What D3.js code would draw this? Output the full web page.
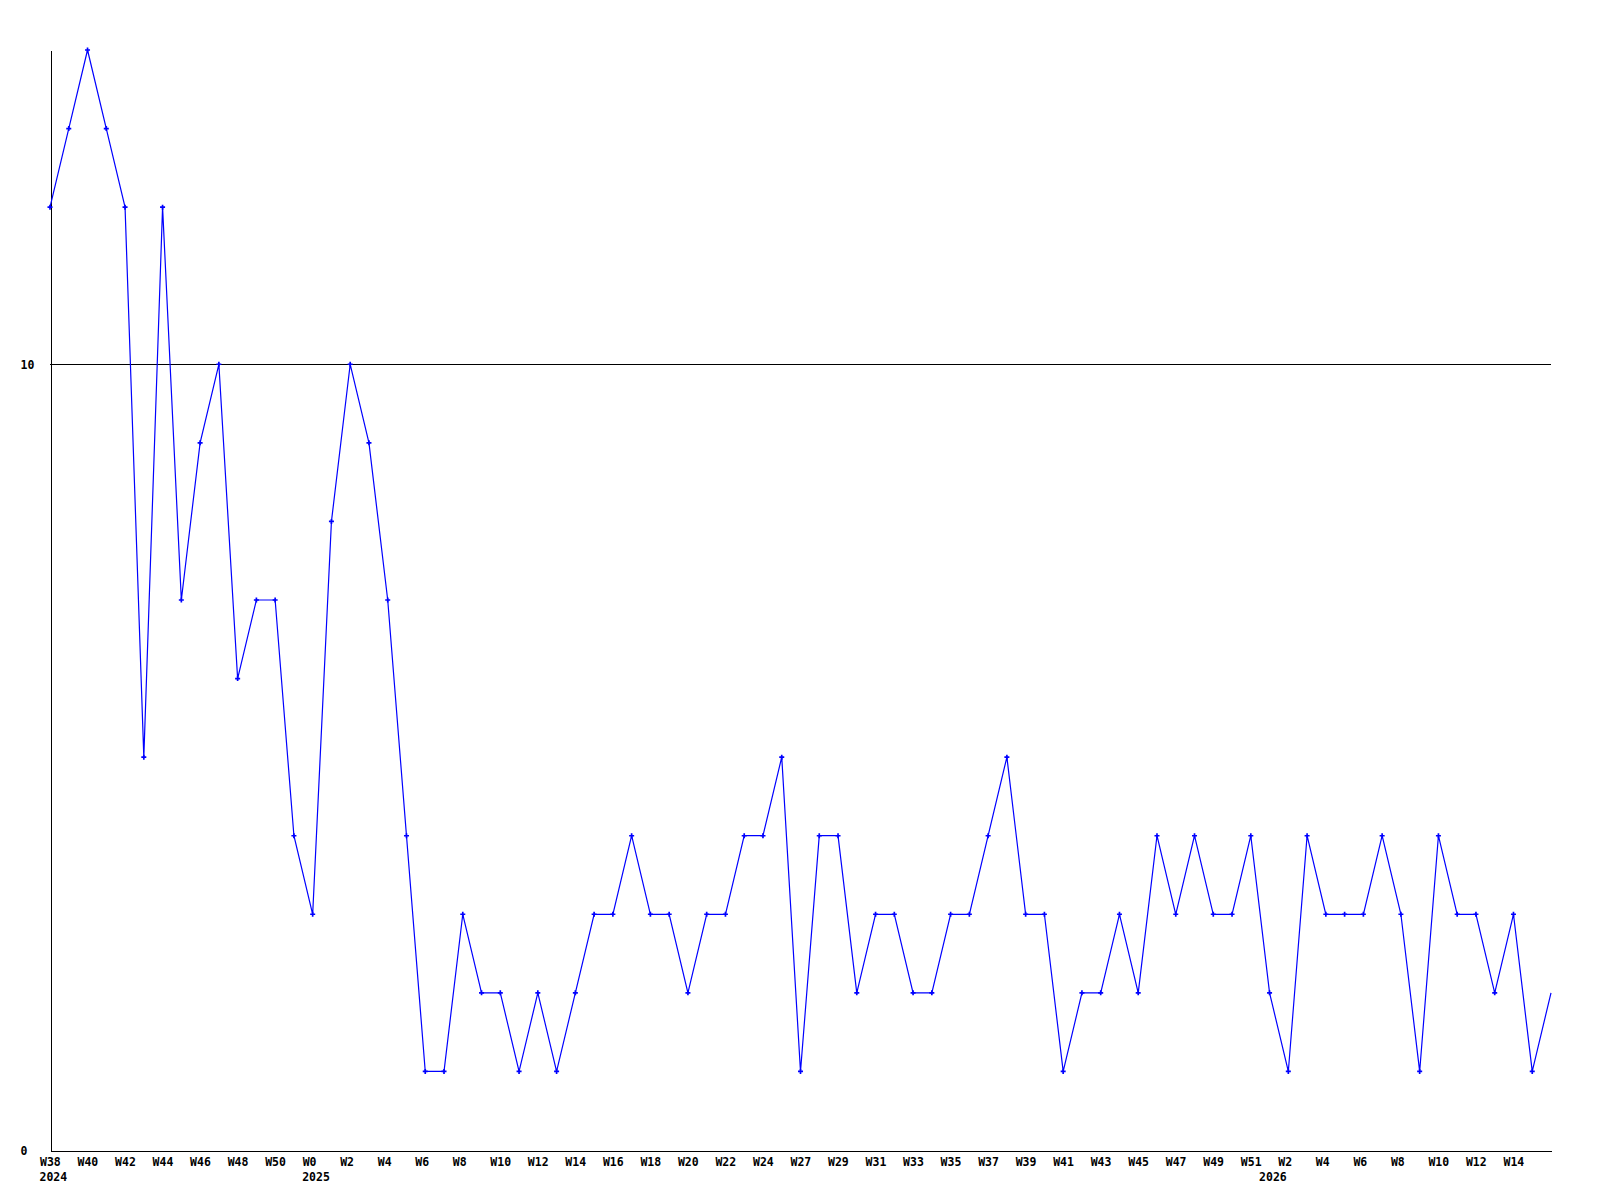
<!DOCTYPE html>
<html>
<head>
<meta charset="utf-8">
<script src="https://cdn.jsdelivr.net/npm/d3@7"></script>
<style>
  body { margin: 0; background: #fff; }
  text { font-family: "DejaVu Sans Mono", "Liberation Mono", monospace; font-weight: bold; font-size: 11.5px; fill: #000; }
</style>
</head>
<body>
<svg id="chart"></svg>
<script>
// weekly counts, one per point
const values = [
  12, 13, 14, 13, 12, 5, 12, 7, 9, 10,
  6, 7, 7, 4, 3, 8, 10, 9, 7, 4,
  1, 1, 3, 2, 2, 1, 2, 1, 2, 3,
  3, 4, 3, 3, 2, 3, 3, 4, 4, 5,
  1, 4, 4, 2, 3, 3, 2, 2, 3, 3,
  4, 5, 3, 3, 1, 2, 2, 3, 2, 4,
  3, 4, 3, 3, 4, 2, 1, 4, 3, 3,
  3, 4, 3, 1, 4, 3, 3, 2, 3, 1,
  2
];

// week labels, every second point
const weekLabels = [
  "W38", "W40", "W42", "W44", "W46", "W48", "W50", "W0", "W2", "W4",
  "W6", "W8", "W10", "W12", "W14", "W16", "W18", "W20", "W22", "W24",
  "W27", "W29", "W31", "W33", "W35", "W37", "W39", "W41", "W43", "W45",
  "W47", "W49", "W51", "W2", "W4", "W6", "W8", "W10", "W12", "W14"
];

const yearLabels = ["2024", "2025", "2026"];
const yearIndex = [0, 14, 65];

const yTicks = [0, 10];

const width = 1600;
const height = 1200;
const mLeft = 50, mRight = 1551, mTop = 50, mBottom = 1150;

const svg = d3.select("#chart").attr("width", width).attr("height", height);

const x = d3.scaleLinear().domain([0, values.length - 1]).range([mLeft, mRight]);
const y = d3.scaleLinear().domain([0, 14]).range([mBottom, mTop]);

// horizontal line at 10
svg.append("line")
    .attr("x1", mLeft).attr("x2", mRight)
    .attr("y1", y(10) + 0.5).attr("y2", y(10) + 0.5)
    .attr("stroke", "#000")
    .attr("shape-rendering", "crispEdges");

// y axis
const gy = svg.append("g")
    .attr("transform", `translate(${mLeft + 0.5},0)`)
    .call(d3.axisLeft(y).tickValues(yTicks).tickSize(0).tickSizeOuter(0));
gy.attr("font-family", null).attr("font-size", null);
gy.select(".domain").attr("stroke", "#000").attr("shape-rendering", "crispEdges");
gy.selectAll("text")
    .attr("x", 20 - mLeft)
    .attr("dy", "0.35em")
    .attr("text-anchor", "start");

// x axis
const gx = svg.append("g")
    .attr("transform", `translate(0,${mBottom + 0.5})`)
    .call(d3.axisBottom(x)
        .tickValues(weekLabels.map((d, i) => i * 2))
        .tickFormat((d, i) => weekLabels[i])
        .tickSize(0).tickSizeOuter(0));
gx.attr("font-family", null).attr("font-size", null);
gx.select(".domain").attr("stroke", "#000").attr("shape-rendering", "crispEdges");
gx.selectAll("text")
    .attr("x", -10.5)
    .attr("y", 15)
    .attr("dy", 0)
    .attr("text-anchor", "start");

// year labels
svg.selectAll(".year")
    .data(yearLabels)
    .join("text")
    .attr("class", "year")
    .attr("x", (d, i) => x(yearIndex[i]) - 10.5)
    .attr("y", mBottom + 31)
    .text(d => d);

// the line
svg.append("path")
    .datum(values)
    .attr("d", d3.line((d, i) => x(i), d => y(d)))
    .attr("fill", "none")
    .attr("stroke", "#0000ff")
    .attr("stroke-width", 1.2);

// markers (last week has none)
svg.selectAll(".mark")
    .data(values.slice(0, -1))
    .join("path")
    .attr("class", "mark")
    .attr("d", d3.symbol(d3.symbolCross, 14))
    .attr("fill", "#0000ff")
    .attr("transform", (d, i) => `translate(${x(i)},${y(d)})`);
</script>
</body>
</html>
